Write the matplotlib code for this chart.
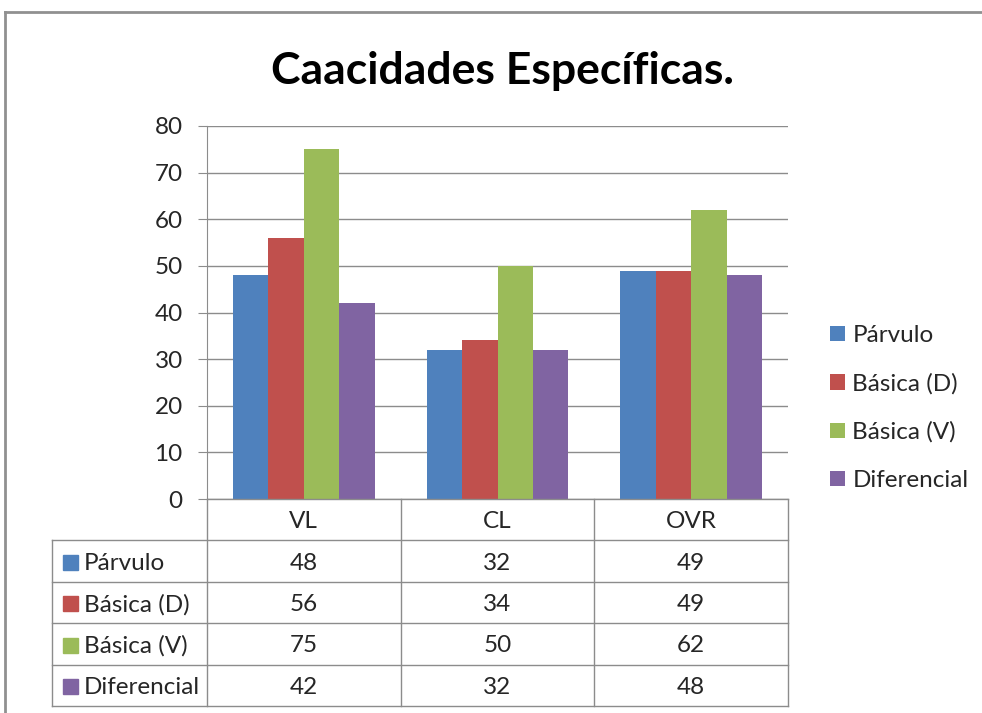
import numpy as np
import matplotlib.pyplot as plt
from matplotlib.patches import Rectangle
from matplotlib.lines import Line2D

categories = ["VL", "CL", "OVR"]
series = ["Párvulo", "Básica (D)", "Básica (V)", "Diferencial"]
parvulo = [48, 32, 49]
basica_d = [56, 34, 49]
basica_v = [75, 50, 62]
diferencial = [42, 32, 48]
values = [parvulo, basica_d, basica_v, diferencial]
colors = ["#4F81BD", "#C0504D", "#9BBB59", "#8064A2"]

fs = 17.5
plt.rcParams.update({
    "font.family": ["Lato", "DejaVu Sans"],
    "font.size": fs,
    "figure.facecolor": "white",
})
grid_c = "#8C8C8C"
text_c = "#262626"

fig = plt.figure(figsize=(9.82, 7.13), dpi=100)

# outer chart border (only top and left show in the crop)
fig.add_artist(Line2D([5 / 982, 5 / 982], [0, 1 - 12 / 713], transform=fig.transFigure,
                      color="#909090", lw=2))
fig.add_artist(Line2D([5 / 982, 1], [1 - 12 / 713, 1 - 12 / 713], transform=fig.transFigure,
                      color="#909090", lw=2))

fig.text(502 / 982, 1 - 71 / 713, "Caacidades Específicas.", ha="center", va="center",
         fontsize=32, fontweight="bold", color="black")

ax = fig.add_axes([207 / 982, 1 - 499 / 713, 581 / 982, 373 / 713])
x = np.arange(len(categories)) + 0.5
bw = 0.183
for k, (name, vals, c) in enumerate(zip(series, values, colors)):
    ax.bar(x + (k - 1.5) * bw, vals, width=bw, color=c, label=name, zorder=3)

ax.set_xlim(0, 3)
ax.set_ylim(0, 80)
ax.set_yticks(range(0, 81, 10))
ax.set_xticks([])
ax.grid(axis="y", color=grid_c, lw=1, zorder=0)
for s in ["top", "right", "bottom"]:
    ax.spines[s].set_visible(False)
ax.spines["left"].set_color(grid_c)
ax.tick_params(axis="y", direction="out", length=6.5, color=grid_c, labelsize=fs,
               labelcolor=text_c, pad=11)

ax.legend(loc="center left", bbox_to_anchor=(830 / 982, 1 - 408 / 713),
          bbox_transform=fig.transFigure, frameon=False, fontsize=fs,
          handlelength=0.62, handleheight=0.62, handletextpad=0.3, labelspacing=1.11,
          labelcolor=text_c, borderpad=0, borderaxespad=0)

# data table under the plot
tax = fig.add_axes([52 / 982, 1 - 706 / 713, 736 / 982, 207 / 713])
lab_w = 155 / 194
tax.set_xlim(-lab_w, 3)
tax.set_ylim(5, 0)
tax.axis("off")
for xv in [0, 1, 2, 3]:
    tax.plot([xv, xv], [0, 5], color=grid_c, lw=1, clip_on=False)
tax.plot([-lab_w, -lab_w], [1, 5], color=grid_c, lw=1, clip_on=False)
tax.plot([0, 3], [0, 0], color=grid_c, lw=1, clip_on=False)
for r in range(1, 6):
    tax.plot([-lab_w, 3], [r, r], color=grid_c, lw=1, clip_on=False)

for j, cat in enumerate(categories):
    tax.text(j + 0.5, 0.55, cat, ha="center", va="center", fontsize=fs, color=text_c)
sq_w = 15 / 194
sq_h = 15 / 41.4
for i, (name, vals, c) in enumerate(zip(series, values, colors)):
    row = i + 1
    tax.add_patch(Rectangle((-lab_w + 11 / 194, row + 0.53 - sq_h / 2), sq_w, sq_h,
                            color=c, clip_on=False))
    tax.text(-lab_w + 32 / 194, row + 0.55, name, ha="left", va="center", fontsize=fs,
             color=text_c)
    for j, v in enumerate(vals):
        tax.text(j + 0.5, row + 0.55, str(v), ha="center", va="center", fontsize=fs,
                 color=text_c)

fig.savefig("out.png", dpi=100)
